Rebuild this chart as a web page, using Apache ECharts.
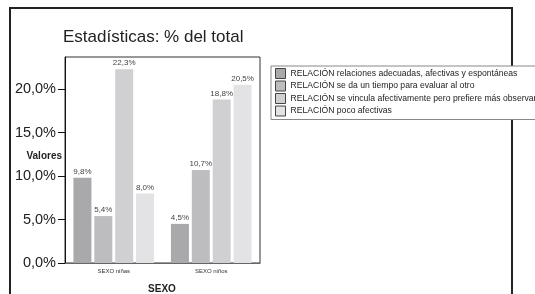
<!DOCTYPE html>
<html>
<head>
<meta charset="utf-8">
<script src="https://cdn.jsdelivr.net/npm/echarts@6/dist/echarts.min.js"></script>
<style>
  html, body { margin: 0; padding: 0; background: #fff; }
  #chart { width: 535px; height: 294px; }
</style>
</head>
<body>
<div id="chart"></div>
<script>
// categorías del eje x
const categorias = ['SEXO niñas', 'SEXO niños'];
// series (porcentaje del total)
const serieNombres = [
  'RELACIÓN relaciones adecuadas, afectivas y espontáneas',
  'RELACIÓN se da un tiempo para evaluar al otro',
  'RELACIÓN se vincula afectivamente pero prefiere más observar',
  'RELACIÓN poco afectivas'
];
const adecuadas = [9.8, 4.5];
const tiempo = [5.4, 10.7];
const vincula = [22.3, 18.8];
const pocoAfectivas = [8.0, 20.5];
const yTicks = [0, 5, 10, 15, 20];

const colores = ['#a9a9ab', '#bdbdbf', '#d0d0d2', '#e3e3e5'];
const fuente = 'Liberation Sans';

const pct = v => v.toFixed(1).replace('.', ',') + '%';

const chart = echarts.init(document.getElementById('chart'));

const series = [adecuadas, tiempo, vincula, pocoAfectivas].map((d, i) => ({
  name: serieNombres[i],
  type: 'bar',
  data: d,
  barWidth: 18,
  barGap: '16%',
  itemStyle: { color: colores[i] },
  label: {
    show: true,
    position: 'top',
    distance: 2,
    fontSize: 8,
    fontFamily: fuente,
    color: '#444',
    formatter: p => pct(p.value)
  }
}));

chart.setOption({
  animation: false,
  textStyle: { fontFamily: fuente },
  title: {
    text: 'Estadísticas: % del total',
    left: 58,
    top: 24,
    textStyle: { fontSize: 17, fontWeight: 'normal', color: '#222', fontFamily: fuente }
  },
  graphic: [
    {
      type: 'rect',
      z: 0,
      shape: { x: 10, y: 8, width: 502, height: 400 },
      style: { fill: 'none', stroke: '#222', lineWidth: 2 }
    },
    // nombres de los ejes
    {
      type: 'text',
      z: 5,
      x: 62,
      y: 156,
      style: {
        text: 'Valores', fontSize: 10, fontWeight: 'bold', fill: '#222',
        fontFamily: fuente, align: 'right', verticalAlign: 'middle'
      }
    },
    {
      type: 'text',
      z: 5,
      x: 162,
      y: 289,
      style: {
        text: 'SEXO', fontSize: 10, fontWeight: 'bold', fill: '#222',
        fontFamily: fuente, align: 'center', verticalAlign: 'middle'
      }
    }
  ],
  legend: {
    orient: 'vertical',
    left: 271,
    top: 66,
    z: 10,
    backgroundColor: '#fff',
    borderColor: '#888',
    borderWidth: 1,
    padding: [2, 20, 3, 4],
    itemWidth: 10,
    itemHeight: 10,
    itemGap: 1.5,
    icon: 'rect',
    itemStyle: { borderColor: '#444', borderWidth: 1 },
    textStyle: { fontSize: 8.6, color: '#222', fontFamily: fuente },
    data: serieNombres
  },
  grid: {
    left: 65,
    top: 57,
    width: 195,
    height: 206,
    outerBoundsMode: 'none',
    containLabel: false,
    show: true,
    borderColor: '#333',
    borderWidth: 1,
    backgroundColor: '#fff'
  },
  xAxis: {
    type: 'category',
    data: categorias,
    axisLine: { lineStyle: { color: '#666', width: 1 } },
    axisTick: { alignWithLabel: true, length: 5, lineStyle: { color: '#111', width: 2 } },
    axisLabel: { fontSize: 6, color: '#333', margin: 5 }
  },
  yAxis: {
    type: 'value',
    min: 0,
    max: 23.7,
    interval: 5,
    axisLine: { show: true, lineStyle: { color: '#111', width: 1 } },
    axisTick: { show: true, length: 7, customValues: yTicks, lineStyle: { color: '#111' } },
    axisLabel: {
      customValues: yTicks,
      fontSize: 14.5,
      color: '#222',
      margin: 9,
      formatter: v => pct(v)
    },
    splitLine: { show: false }
  },
  series: series
});
</script>
</body>
</html>
